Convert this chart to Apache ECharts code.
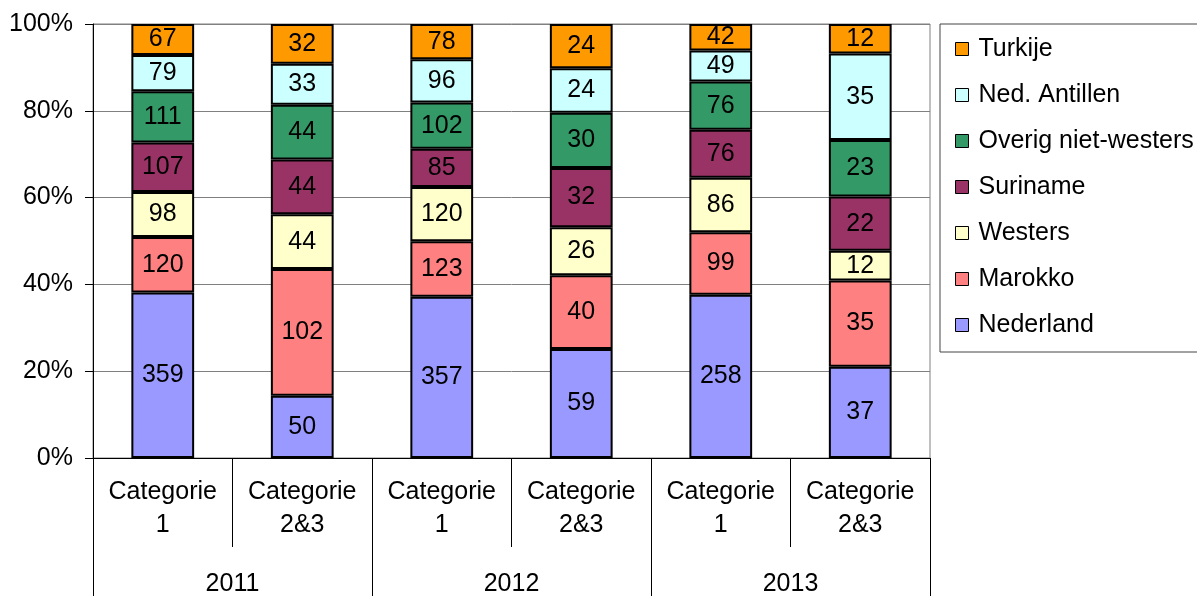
<!DOCTYPE html>
<html>
<head>
  <meta charset="utf-8">
  <title>Herkomst per categorie</title>
  <script src="https://cdn.jsdelivr.net/npm/echarts@6/dist/echarts.min.js"></script>
  <style>
    html, body { margin: 0; padding: 0; background: #fff; }
  </style>
</head>
<body>
  <div id="main" style="width: 1197px; height: 597px;"></div>

  <script>
    const categories = ['Categorie\n1', 'Categorie\n2&3', 'Categorie\n1', 'Categorie\n2&3', 'Categorie\n1', 'Categorie\n2&3'];
    const years = ['2011', '2012', '2013'];
    const yTicks = [0, 20, 40, 60, 80, 100];

    // aantallen per groep, van onder naar boven gestapeld
    const nederland = [359, 50, 357, 59, 258, 37];
    const marokko   = [120, 102, 123, 40, 99, 35];
    const westers   = [98, 44, 120, 26, 86, 12];
    const suriname  = [107, 44, 85, 32, 76, 22];
    const overig    = [111, 44, 102, 30, 76, 23];
    const antillen  = [79, 33, 96, 24, 49, 35];
    const turkije   = [67, 32, 78, 24, 42, 12];

    const groups = [
      { name: 'Nederland', counts: nederland, color: '#9999FF' },
      { name: 'Marokko', counts: marokko, color: '#FF8080' },
      { name: 'Westers', counts: westers, color: '#FFFFCC' },
      { name: 'Suriname', counts: suriname, color: '#993366' },
      { name: 'Overig niet-westers', counts: overig, color: '#339966' },
      { name: 'Ned. Antillen', counts: antillen, color: '#CCFFFF' },
      { name: 'Turkije', counts: turkije, color: '#FF9900' }
    ];

    // totalen per kolom voor de 100%-weergave
    const totals = categories.map((c, i) => groups.reduce((s, g) => s + g.counts[i], 0));

    const font = 'Liberation Sans, Arial, sans-serif';
    const chart = echarts.init(document.getElementById('main'));

    const option = {
      animation: false,
      textStyle: { fontFamily: font },
      grid: {
        left: 93, right: 267, top: 24, bottom: 138,
        show: true, borderColor: '#808080', borderWidth: 1
      },
      legend: {
        orient: 'vertical',
        left: 940, top: 24,
        padding: [10, 60, 12, 15],
        itemGap: 16,
        itemWidth: 13, itemHeight: 13,
        icon: 'rect',
        borderColor: '#444',
        borderWidth: 1,
        data: groups.map(g => g.name).reverse(),
        textStyle: { fontSize: 25, color: '#000', fontFamily: font, lineHeight: 30, padding: [0, 0, 0, 5] },
        itemStyle: { borderColor: '#000', borderWidth: 1 }
      },
      xAxis: [
        {
          type: 'category',
          data: categories,
          position: 'bottom',
          axisLine: { lineStyle: { color: '#000', width: 1 } },
          axisTick: { show: true, length: 89, lineStyle: { color: '#000' } },
          axisLabel: { fontSize: 25, color: '#000', lineHeight: 33, margin: 18, interval: 0, fontFamily: font }
        },
        {
          type: 'category',
          data: years,
          position: 'bottom',
          axisLine: { show: false },
          axisTick: { show: true, length: 138, lineStyle: { color: '#000' } },
          axisLabel: { fontSize: 25, color: '#000', margin: 114, interval: 0, fontFamily: font }
        }
      ],
      yAxis: {
        type: 'value',
        min: yTicks[0], max: yTicks[yTicks.length - 1], interval: 20,
        axisLine: { show: true, lineStyle: { color: '#000' } },
        axisTick: { show: true, length: 8, lineStyle: { color: '#000' } },
        axisLabel: { formatter: '{value}%', fontSize: 25, color: '#000', margin: 20, fontFamily: font },
        splitLine: { lineStyle: { color: '#808080', width: 1 } }
      },
      series: groups.map((g, si) => ({
        name: g.name,
        type: 'bar',
        stack: 'totaal',
        xAxisIndex: 0,
        barWidth: '45%',
        data: g.counts.map((v, i) => v / totals[i] * 100),
        itemStyle: { color: g.color, borderColor: '#000', borderWidth: 2 },
        label: {
          show: true,
          position: 'inside',
          fontSize: 25,
          color: '#000',
          fontFamily: font,
          formatter: p => groups[si].counts[p.dataIndex]
        }
      }))
    };
    chart.setOption(option);
  </script>
</body>
</html>
